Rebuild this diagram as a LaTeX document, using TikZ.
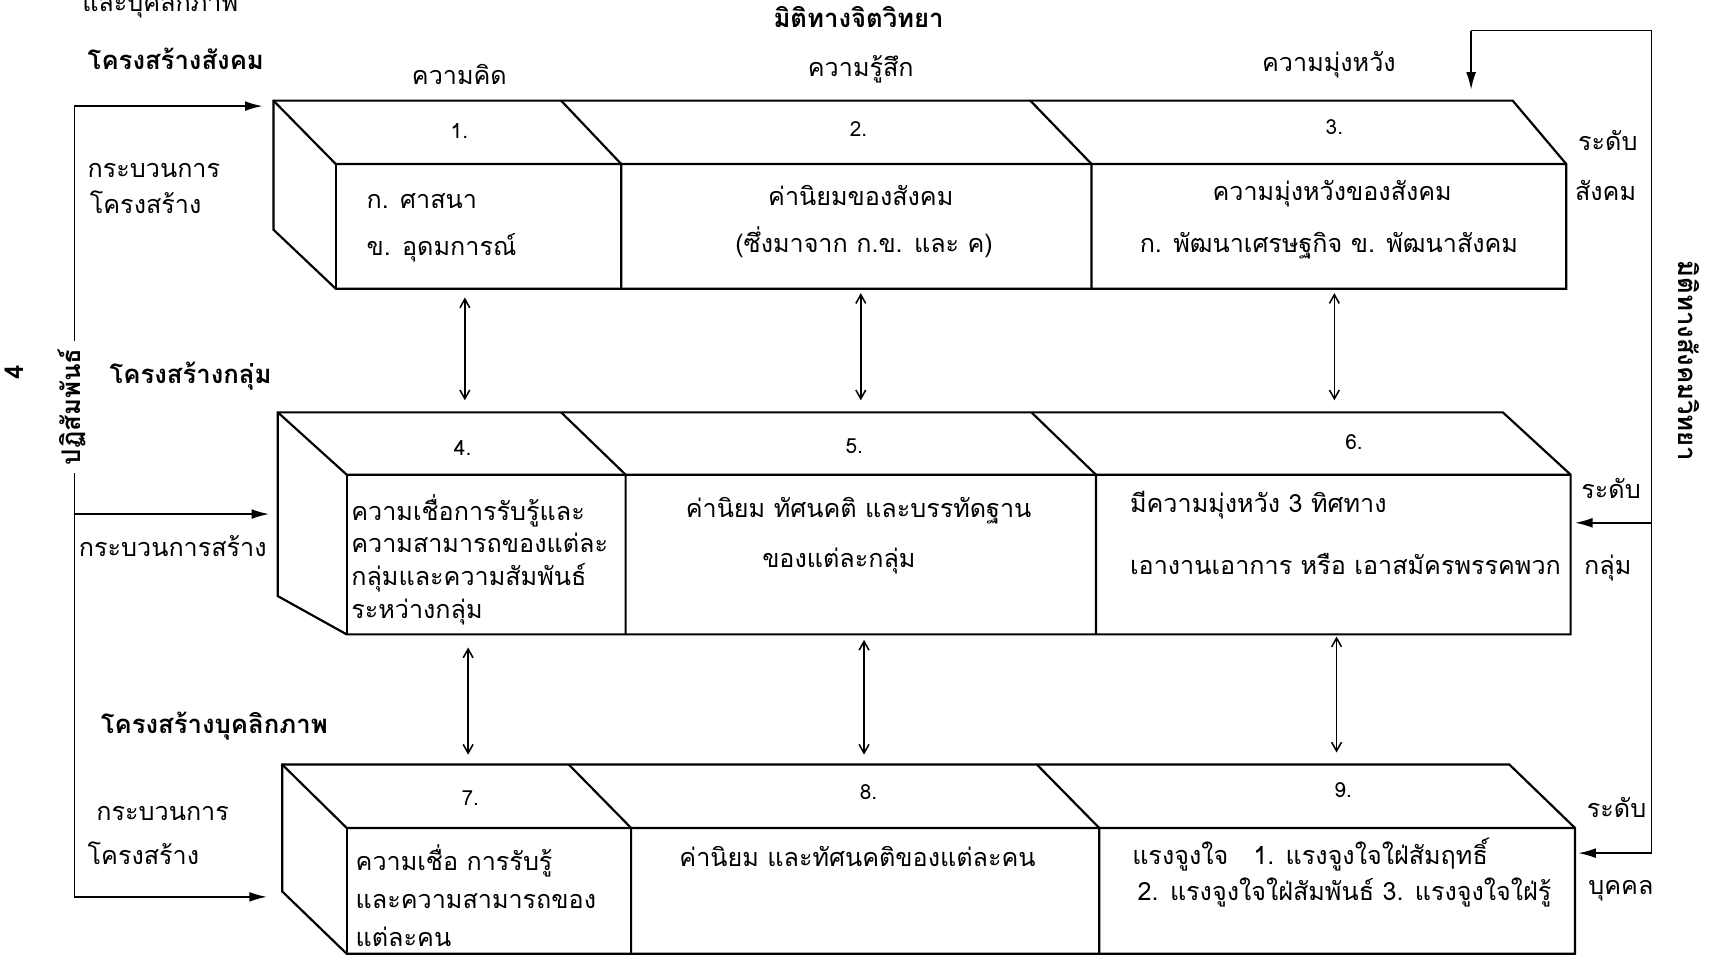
\documentclass[tikz,border=0pt]{standalone}
\usepackage{fontspec}
\setmainfont{Loma}[Script=Thai]
\usetikzlibrary{arrows.meta}

\begin{document}
\begin{tikzpicture}
[x=1pt,y=-1pt,
  boxLine/.style={line width=2pt},%
  flowLine/.style={line width=1.5pt},%
  flowArrow/.style={line width=1.5pt,-{Latex[length=16pt,width=9pt]}},%
  dblArrow/.style={line width=1.4pt,{Straight Barb[length=8pt,width=9pt]}-{Straight Barb[length=8pt,width=9pt]}},%
  plainText/.style={font=\fontsize{23}{30}\selectfont,inner sep=0pt,text height=17pt,text depth=6pt},%
  headText/.style={font=\bfseries\fontsize{23.5}{30}\selectfont,inner sep=0pt,text height=17pt,text depth=6pt},%
  numText/.style={font=\fontsize{19}{22}\selectfont,inner sep=0pt}]
\useasboundingbox (0,0) rectangle (1568,877);
%% the three boxes
\foreach \ta/\tb/\bt/\xa/\xb/\lb/\xr/\xc/\da/\db/\ea/\eb in
  {92/150/264/250/307/210/1383/1432/513/568/942/998,
   377/434/580/254/317/545/1374/1436/513/572/943/1002,
   699/757/872/258/317/815/1380/1440/520/577/948/1005}
{
  \draw[boxLine] (\xa,\ta) -- (\xr,\ta) -- (\xc,\tb) -- (\xc,\bt) -- (\xb,\bt) -- (\xa,\lb) -- cycle;
  \draw[boxLine] (\xa,\ta) -- (\xb,\tb) -- (\xc,\tb);
  \draw[boxLine] (\xb,\tb) -- (\xb,\bt);
  \draw[boxLine] (\da,\ta) -- (\db,\tb) -- (\db,\bt);
  \draw[boxLine] (\ea,\ta) -- (\eb,\tb) -- (\eb,\bt);
}
%% numbers
\foreach \n/\x/\y in {1/420/120, 2/785/118, 3/1220/116, 4/423/410, 5/781/408,
  6/1238/404, 7/430/730, 8/794/724, 9/1228/722}
{
  \node (num\n) at (\x,\y) [numText] {\n.};
}
%% headings
\node (psyDim) at (785,20) [headText] {มิติทางจิตวิทยา};
\node (persTop) at (75,5) [plainText,anchor=west] {และบุคลิกภาพ};
\node (socStruct) at (80,58) [headText,anchor=west] {โครงสร้างสังคม};
\node (grpStruct) at (100,345) [headText,anchor=west] {โครงสร้างกลุ่ม};
\node (perStruct) at (92,665) [headText,anchor=west] {โครงสร้างบุคลิกภาพ};
\node (colThink) at (420,72) [plainText] {ความคิด};
\node (colFeel) at (787,64) [plainText] {ความรู้สึก};
\node (colHope) at (1215,60) [plainText] {ความมุ่งหวัง};
%% left labels
\node (procA1) at (80,157) [plainText,anchor=west] {กระบวนการ};
\node (procA2) at (82,190) [plainText,anchor=west] {โครงสร้าง};
\node (procB) at (72,503) [plainText,anchor=west] {กระบวนการสร้าง};
\node (procC1) at (88,745) [plainText,anchor=west] {กระบวนการ};
\node (procC2) at (80,785) [plainText,anchor=west] {โครงสร้าง};
\node (inter) at (68,372) [headText,rotate=90,inner sep=7pt] {ปฏิสัมพันธ์};
\node (four) at (16,340) [headText,rotate=90] {4};
%% right labels
\node (lvlA1) at (1470,132) [plainText] {ระดับ};
\node (lvlA2) at (1468,178) [plainText] {สังคม};
\node (lvlB1) at (1473,450) [plainText] {ระดับ};
\node (lvlB2) at (1470,520) [plainText] {กลุ่ม};
\node (lvlC1) at (1478,742) [plainText] {ระดับ};
\node (lvlC2) at (1482,812) [plainText] {บุคคล};
\node (socDim) at (1540,330) [headText,rotate=-90] {มิติทางสังคมวิทยา};
%% box texts
\node (t1a) at (335,185) [plainText,anchor=west] {ก. ศาสนา};
\node (t1b) at (335,228) [plainText,anchor=west] {ข. อุดมการณ์};
\node (t2a) at (787,182) [plainText] {ค่านิยมของสังคม};
\node (t2b) at (790,225) [plainText] {(ซึ่งมาจาก ก.ข. และ ค)};
\node (t3a) at (1218,178) [plainText] {ความมุ่งหวังของสังคม};
\node (t3b) at (1215,225) [plainText] {ก. พัฒนาเศรษฐกิจ ข. พัฒนาสังคม};
\node (t4a) at (321,470) [plainText,anchor=west] {ความเชื่อการรับรู้และ};
\node (t4b) at (321,500) [plainText,anchor=west] {ความสามารถของแต่ละ};
\node (t4c) at (321,530) [plainText,anchor=west] {กลุ่มและความสัมพันธ์};
\node (t4d) at (321,560) [plainText,anchor=west] {ระหว่างกลุ่ม};
\node (t5a) at (785,468) [plainText] {ค่านิยม ทัศนคติ และบรรทัดฐาน};
\node (t5b) at (767,513) [plainText] {ของแต่ละกลุ่ม};
\node (t6a) at (1033,463) [plainText,anchor=west] {มีความมุ่งหวัง 3 ทิศทาง};
\node (t6b) at (1033,520) [plainText,anchor=west] {เอางานเอาการ หรือ เอาสมัครพรรคพวก};
\node (t7a) at (325,790) [plainText,anchor=west] {ความเชื่อ การรับรู้};
\node (t7b) at (325,825) [plainText,anchor=west] {และความสามารถของ};
\node (t7c) at (325,860) [plainText,anchor=west] {แต่ละคน};
\node (t8a) at (784,787) [plainText] {ค่านิยม และทัศนคติของแต่ละคน};
\node (t9a) at (1035,785) [plainText,anchor=west] {แรงจูงใจ\quad 1. แรงจูงใจใฝ่สัมฤทธิ์};
\node (t9b) at (1040,818) [plainText,anchor=west] {2. แรงจูงใจใฝ่สัมพันธ์ 3. แรงจูงใจใฝ่รู้};
%% connector ends
\foreach \n/\x/\y in {L1/68/97, L2/68/470, L3/68/820, inA/240/97, inB/246/470, inC/244/820,
  R0/1345/28, R1/1510/28, R2/1510/478, R3/1510/780, topIn/1345/82, grpIn/1440/478, indIn/1443/780}
{
  \coordinate (\n) at (\x,\y);
}
\foreach \n/\x/\ya/\yb in {a/425/272/366, b/787/268/366, c/1220/268/366,
  d/428/592/690, e/790/585/690, f/1222/582/688}
{
  \coordinate (up\n) at (\x,\ya);
  \coordinate (dn\n) at (\x,\yb);
}
%% double arrows between levels
\path
\foreach \startnode/\endnode in {upa/dna, upb/dnb, upc/dnc, upd/dnd, upe/dne, upf/dnf}
{
  (\startnode) edge[dblArrow] (\endnode)
};
%% left loop
\draw[flowLine] (inter.east) -- (L1);
\draw[flowLine] (inter.west) -- (L3);
\path
\foreach \startnode/\endnode in {L1/inA, L2/inB, L3/inC}
{
  (\startnode) edge[flowArrow] (\endnode)
};
%% right loop
\draw[flowLine] (R0) -- (R1) -- (R3);
\path
\foreach \startnode/\endnode in {R0/topIn, R2/grpIn, R3/indIn}
{
  (\startnode) edge[flowArrow] (\endnode)
};
\end{tikzpicture}
\end{document}
